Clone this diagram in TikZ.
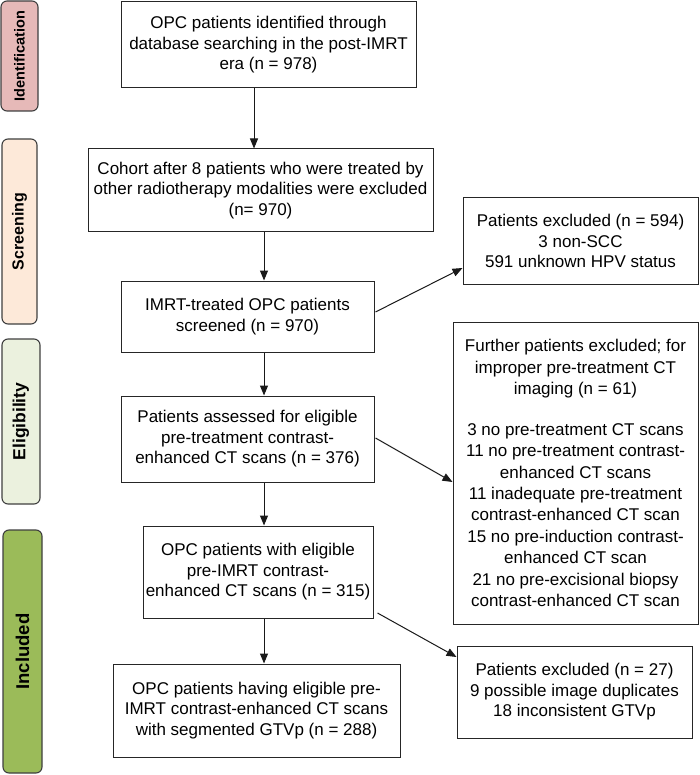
\documentclass[tikz,border=0pt]{standalone}
\usepackage{fontspec}
\setmainfont{Liberation Sans}
\usetikzlibrary{arrows.meta,positioning,calc}
\definecolor{idcol}{HTML}{E6B9B8}
\definecolor{sccol}{HTML}{FDE9D9}
\definecolor{elcol}{HTML}{EBF1DE}
\definecolor{incol}{HTML}{9BBB59}
\definecolor{barline}{HTML}{3F3F3F}
\begin{document}
\begin{tikzpicture}[x=1pt,y=-1pt,
  flowbox/.style={draw=black!85,line width=1pt,fill=white,align=center,inner sep=0pt,
    font=\fontsize{17}{20.5}\selectfont},
  sidebar/.style={draw=barline,line width=1.1pt,rounded corners=6pt,rotate=90,inner sep=0pt,
    font=\bfseries\fontsize{16}{18}\selectfont},
  arr/.style={line width=1pt,draw=black!90,-{Triangle[length=10pt,width=8pt]}}]
\useasboundingbox (0,0) rectangle (700,775);
% side bars
\node[sidebar,fill=idcol,minimum width=110pt,minimum height=37pt,font=\bfseries\fontsize{14.5}{16}\selectfont] (sid) at (19.5,56) {Identification};
\node[sidebar,fill=sccol,minimum width=185pt,minimum height=35pt] (ssc) at (19.5,231.5) {Screening};
\node[sidebar,fill=elcol,minimum width=165pt,minimum height=38pt,font=\bfseries\fontsize{17.5}{19}\selectfont] (sel) at (21,421.5) {Eligibility};
\node[sidebar,fill=incol,minimum width=243pt,minimum height=39pt,font=\bfseries\fontsize{18.5}{20}\selectfont] (sin) at (22.5,651.5) {Included};
% main column
\node[flowbox,minimum width=295pt,minimum height=86pt] (b1) at (268.5,45) {OPC patients identified through\\database searching in the post-IMRT\\era (n = 978)};
\node[flowbox,minimum width=345pt,minimum height=83pt] (b2) at (260.5,190.5) {Cohort after 8 patients who were treated by\\other radiotherapy modalities were excluded\\(n= 970)};
\node[flowbox,minimum width=253pt,minimum height=71pt] (b3) at (247.5,316.5) {IMRT-treated OPC patients\\screened (n = 970)};
\node[flowbox,minimum width=253pt,minimum height=86pt] (b4) at (247.5,439) {Patients assessed for eligible\\pre-treatment contrast-\\enhanced CT scans (n = 376)};
\node[flowbox,minimum width=230pt,minimum height=92pt] (b5) at (258,572) {OPC patients with eligible\\pre-IMRT contrast-\\enhanced CT scans (n = 315)};
\node[flowbox,minimum width=287pt,minimum height=93pt] (b6) at (256.5,710.5) {OPC patients having eligible pre-\\IMRT contrast-enhanced CT scans\\with segmented GTVp (n = 288)};
% right column
\node[flowbox,minimum width=235pt,minimum height=86pt] (ba) at (580.5,241) {Patients excluded (n = 594)\\3 non-SCC\\591 unknown HPV status};
\node[flowbox,minimum width=245pt,minimum height=302pt,font=\fontsize{17}{21.4}\selectfont] (bb) at (575.5,473) {Further patients excluded; for\\improper pre-treatment CT\\imaging (n = 61)\\[19.5pt]3 no pre-treatment CT scans\\11 no pre-treatment contrast-\\enhanced CT scans\\11 inadequate pre-treatment\\contrast-enhanced CT scan\\15 no pre-induction contrast-\\enhanced CT scan\\21 no pre-excisional biopsy\\contrast-enhanced CT scan};
\node[flowbox,minimum width=235pt,minimum height=92pt] (bc) at (574.5,692) {Patients excluded (n = 27)\\9 possible image duplicates\\18 inconsistent GTVp};
% arrows
\coordinate (xa) at (254,0);
\coordinate (xb) at (264,0);
\draw[arr] (b1.south -| xa) -- (b2.north -| xa);
\draw[arr] (b2.south -| xb) -- (b3.north -| xb);
\draw[arr] (b3.south -| xb) -- (b4.north -| xb);
\draw[arr] (b4.south -| xb) -- (b5.north -| xb);
\draw[arr] (b5.south -| xb) -- (b6.north -| xb);
\draw[arr] ([xshift=1pt,yshift=4.5pt]b3.east) -- ([yshift=-27pt]ba.west);
\draw[arr] ([xshift=1pt,yshift=1pt]b4.east) -- ([yshift=-9pt]bb.west);
\draw[arr] ([xshift=4pt,yshift=-41pt]b5.east) -- ([yshift=35pt]bc.west);
\end{tikzpicture}
\end{document}
